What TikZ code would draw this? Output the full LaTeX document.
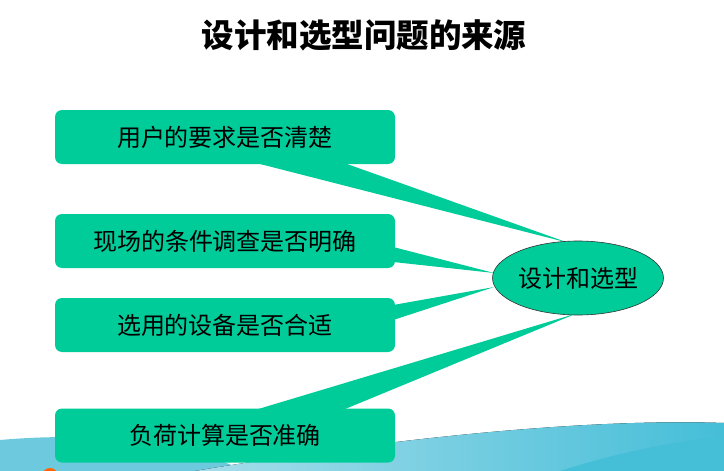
\documentclass[tikz,border=0pt]{standalone}
\usepackage{fontspec}
\usepackage{tikz}
\usetikzlibrary{calc,backgrounds,shapes.geometric}
\newfontfamily\cjk{Noto Sans CJK SC}
\definecolor{boxgreen}{HTML}{00CC99}
\definecolor{wavelight}{HTML}{A6DDEA}
\definecolor{wavemid}{HTML}{6CC9DE}
\definecolor{wavedark}{HTML}{45BED8}

\begin{document}
\begin{tikzpicture}[x=1pt,y=-1pt]
\tikzset{itembox/.style = {shape=rectangle,rounded corners=7pt,fill=boxgreen,minimum width=340pt,minimum height=54pt,font=\cjk\fontsize{24}{24}\selectfont,inner sep=0pt}}
\tikzset{core/.style = {shape=ellipse,draw=black!80,line width=0.6pt,fill=boxgreen,minimum width=171pt,minimum height=74pt,font=\cjk\fontsize{24}{24}\selectfont,inner sep=0pt}}
\tikzset{wedge/.style = {fill=boxgreen}}
\useasboundingbox (0,0) rectangle (724,471);
\node[font=\cjk\bfseries\fontsize{32.5}{32.5}\selectfont] (title) at (364,35) {设计和选型问题的来源};
\node[itembox] (user) at (225,137) {用户的要求是否清楚};
\node[itembox] (site) at (225,241) {现场的条件调查是否明确};
\node[itembox] (equip) at (225,325) {选用的设备是否合适};
\node[itembox] (load) at (225,435.5) {负荷计算是否准确};
\node[core] (design) at (578,278) {设计和选型};
%\draw (design) circle [radius=2];
\begin{scope}[on background layer]
% wave at the bottom
\fill[wavemid] (0,440) .. controls (90,432) and (180,440) .. (245,471) -- (0,471) -- cycle;
\fill[left color=wavelight,right color=wavedark] (195,471) .. controls (380,440) and (580,418) .. (724,423) -- (724,471) -- cycle;
\fill[wavedark] (560,471) .. controls (620,452) and (680,440) .. (724,437) -- (724,471) -- cycle;
\fill[orange!80!red] (50,476) ellipse [x radius=8, y radius=8];
% callout wedges
\fill[wedge] ($(user.south)+(28,-2)$) -- ($(design.north)+(-10,2)$) -- ($(user.south)+(117,-2)$) -- cycle;
\fill[wedge] ($(site.east)+(-2,6)$) -- ($(design.west)+(2,-5)$) -- ($(site.east)+(-2,21)$) -- cycle;
\fill[wedge] ($(equip.east)+(-2,-20)$) -- ($(design.west)+(2,9)$) -- ($(equip.east)+(-2,-5)$) -- cycle;
\fill[wedge] ($(load.north)+(29,2)$) -- ($(design.south)+(-1,-2)$) -- ($(load.north)+(117,2)$) -- cycle;
\end{scope}
\end{tikzpicture}
\end{document}
